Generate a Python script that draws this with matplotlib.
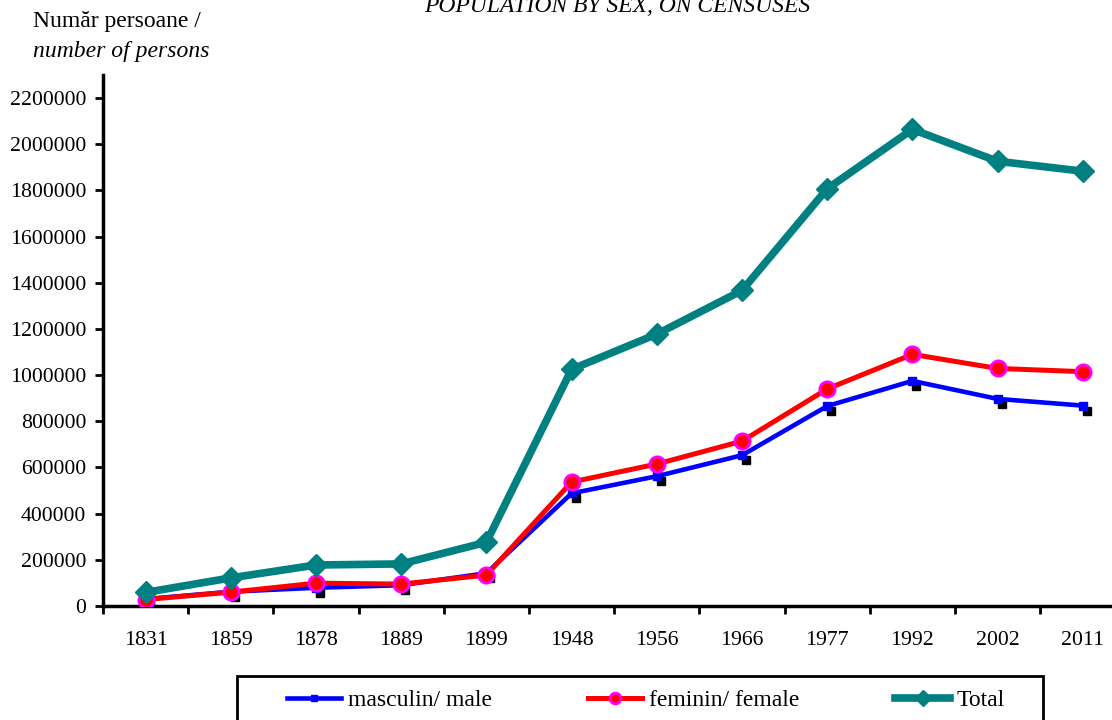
import matplotlib
matplotlib.use('Agg')
import matplotlib.pyplot as plt
from matplotlib.patches import Rectangle
from matplotlib.transforms import offset_copy
from matplotlib.ticker import FixedLocator, NullFormatter

plt.rcParams['font.family'] = ['Liberation Serif', 'DejaVu Serif']

# date recensaminte
years = ['1831', '1859', '1878', '1889', '1899', '1948', '1956', '1966',
         '1977', '1992', '2002', '2011']
male = [30000, 62000, 79000, 90000, 142000, 488000, 562000, 653000,
        866000, 975000, 897000, 868000]
female = [28000, 60000, 99000, 95000, 134000, 537000, 615000, 714000,
          940000, 1090000, 1029000, 1015000]
total = [58794, 121734, 177646, 182204, 276178, 1025180, 1177661, 1366684,
         1807239, 2064474, 1926334, 1883425]
yticks = list(range(0, 2200001, 200000))

FS = 15.7

fig = plt.figure(figsize=(11.12, 7.2), dpi=100)
ax = fig.add_axes([103/1112, 114/720, 12*85.2/1112, 531/720])

x = list(range(len(years)))

# umbra markerelor masculin
shadow = offset_copy(ax.transData, fig=fig, x=4, y=-5, units='dots')
ax.plot(x, male, linestyle='none', marker='s', markersize=6,
        color='black', transform=shadow, zorder=2)
ax.plot(x, male, color='#0000ff', linewidth=3.3, marker='s', markersize=6,
        markeredgecolor='#0000ff', label='masculin/ male', zorder=3)
ax.plot(x, female, color='#ff0000', linewidth=3.6, marker='o', markersize=11,
        markerfacecolor='#ff0000', markeredgecolor='#ff00ff',
        markeredgewidth=2, label='feminin/ female', zorder=4)
ax.plot(x, total, color='#008080', linewidth=5.5, marker='D', markersize=11,
        label='Total', zorder=5)

ax.set_xlim(-0.5, 11.5)
ax.set_ylim(0, 2300000)
ax.set_yticks(yticks)
ax.set_yticklabels([str(v) for v in yticks], fontsize=FS)

ax.xaxis.set_major_locator(FixedLocator([i - 0.5 for i in range(13)]))
ax.xaxis.set_major_formatter(NullFormatter())
ax.xaxis.set_minor_locator(FixedLocator(x))
ax.set_xticklabels(years, minor=True, fontsize=FS)
ax.tick_params(axis='x', which='minor', length=0, pad=18)
ax.tick_params(axis='x', which='major', length=6, width=2, direction='out')
ax.tick_params(axis='y', length=6, width=2, direction='out', pad=6)

for s in ['top', 'right']:
    ax.spines[s].set_visible(False)
for s in ['left', 'bottom']:
    ax.spines[s].set_linewidth(2.5)

fig.text(617/1112, 1 - 12/720, 'POPULATION BY SEX, ON CENSUSES', ha='center',
         va='baseline', fontsize=17, style='italic')
fig.text(33/1112, 1 - 22/720, 'Număr persoane /', ha='left', va='center',
         fontsize=17)
fig.text(33/1112, 1 - 52/720, 'number of persons', ha='left', va='center',
         fontsize=17, style='italic')

# legenda cu chenar desenat separat
fig.patches.append(Rectangle((237/1112, -0.05), (1043 - 237)/1112,
                             0.05 + 44/720, transform=fig.transFigure,
                             fill=False, edgecolor='black', linewidth=2))
leg = fig.legend(loc='center left', bbox_to_anchor=(287/1112, 1 - 700/720),
                 ncol=3, fontsize=17, frameon=False, handlelength=2.3,
                 handletextpad=0.3, columnspacing=4.05, borderpad=0,
                 borderaxespad=0, markerscale=0.7)

fig.savefig('out.png', dpi=100)
